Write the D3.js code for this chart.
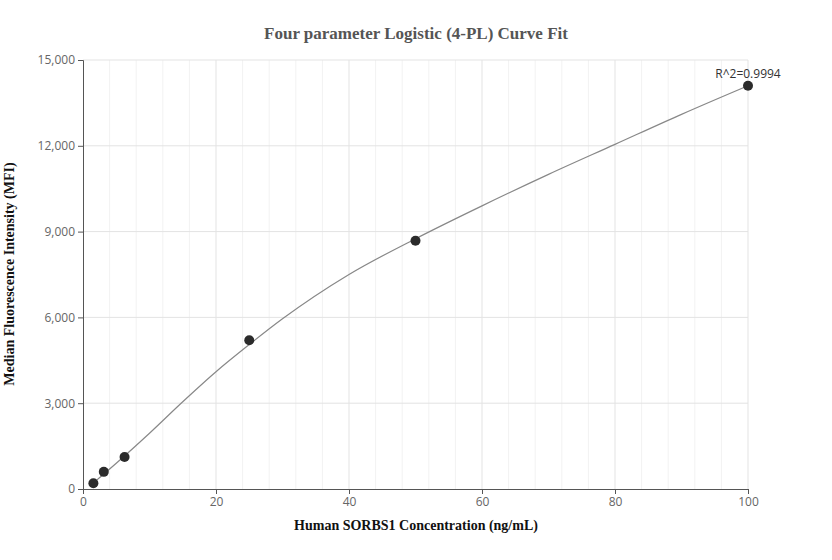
<!DOCTYPE html><html><head><meta charset="utf-8"><script src="https://cdn.jsdelivr.net/npm/d3@7"></script>
<style>body{margin:0;background:#fff}</style></head><body><svg id="c" width="832" height="560"></svg><script>
const pointX=[1.5625,3.125,6.25,25,50,100];
const pointY=[200,600,1120,5200,8680,14100];
const curveX=[1.5,5,10,15,20,25,30,40,50,60,70,80,90,100];
const curveY=[200,900,1950,3050,4100,5050,5950,7500,8750,9900,11000,12050,13100,14100];
const xTicks=[0,20,40,60,80,100];
const yTicks=[0,3000,6000,9000,12000,15000];
const svg=d3.select("#c");
const x=d3.scaleLinear().domain([0,100]).range([83,748]);
const y=d3.scaleLinear().domain([0,15000]).range([489,60]);
const g=svg.append("g");
g.selectAll(".mg").data(d3.range(4,100,4).filter(v=>v%20)).join("line").attr("x1",d=>x(d)).attr("x2",d=>x(d)).attr("y1",60).attr("y2",489).attr("stroke","#f2f2f2");
g.selectAll(".vg").data(xTicks.slice(1)).join("line").attr("x1",d=>x(d)).attr("x2",d=>x(d)).attr("y1",60).attr("y2",489).attr("stroke","#e3e3e3");
g.selectAll(".hg").data(yTicks.slice(1)).join("line").attr("x1",83).attr("x2",748).attr("y1",d=>y(d)).attr("y2",d=>y(d)).attr("stroke","#e3e3e3");
const xa=svg.append("g").attr("transform","translate(0,489)").call(d3.axisBottom(x).tickValues(xTicks).tickSize(5).tickFormat(d3.format("d")));
const ya=svg.append("g").attr("transform","translate(83,0)").call(d3.axisLeft(y).tickValues(yTicks).tickSize(5).tickFormat(d3.format(",")));
[xa,ya].forEach(a=>{a.selectAll("path,line").attr("stroke","#555");a.selectAll("text").attr("fill","#666").style("font-family","Open Sans, sans-serif").style("font-size","12px");});
svg.append("path").datum(curveX.map((v,i)=>[v,curveY[i]])).attr("fill","none").attr("stroke","#888").attr("stroke-width",1.2)
 .attr("d",d3.line().x(d=>x(d[0])).y(d=>y(d[1])).curve(d3.curveMonotoneX));
svg.selectAll(".p").data(pointX.map((v,i)=>[v,pointY[i]])).join("circle").attr("cx",d=>x(d[0])).attr("cy",d=>y(d[1])).attr("r",5).attr("fill","#2b2b2b");
svg.append("text").attr("x",748).attr("y",78).attr("text-anchor","middle").attr("fill","#333").style("font-family","Open Sans, sans-serif").style("font-size","12px").text("R^2=0.9994");
svg.append("text").attr("x",416).attr("y",39).attr("text-anchor","middle").attr("fill","#555").style("font-family","Liberation Serif, serif").style("font-weight","bold").style("font-size","17px").text("Four parameter Logistic (4-PL) Curve Fit");
svg.append("text").attr("x",416).attr("y",530).attr("text-anchor","middle").attr("fill","#111").style("font-family","Liberation Serif, serif").style("font-weight","bold").style("font-size","14px").text("Human SORBS1 Concentration (ng/mL)");
svg.append("text").attr("transform","translate(14,274) rotate(-90)").attr("text-anchor","middle").attr("fill","#111").style("font-family","Liberation Serif, serif").style("font-weight","bold").style("font-size","14px").text("Median Fluorescence Intensity (MFI)");
</script></body></html>
